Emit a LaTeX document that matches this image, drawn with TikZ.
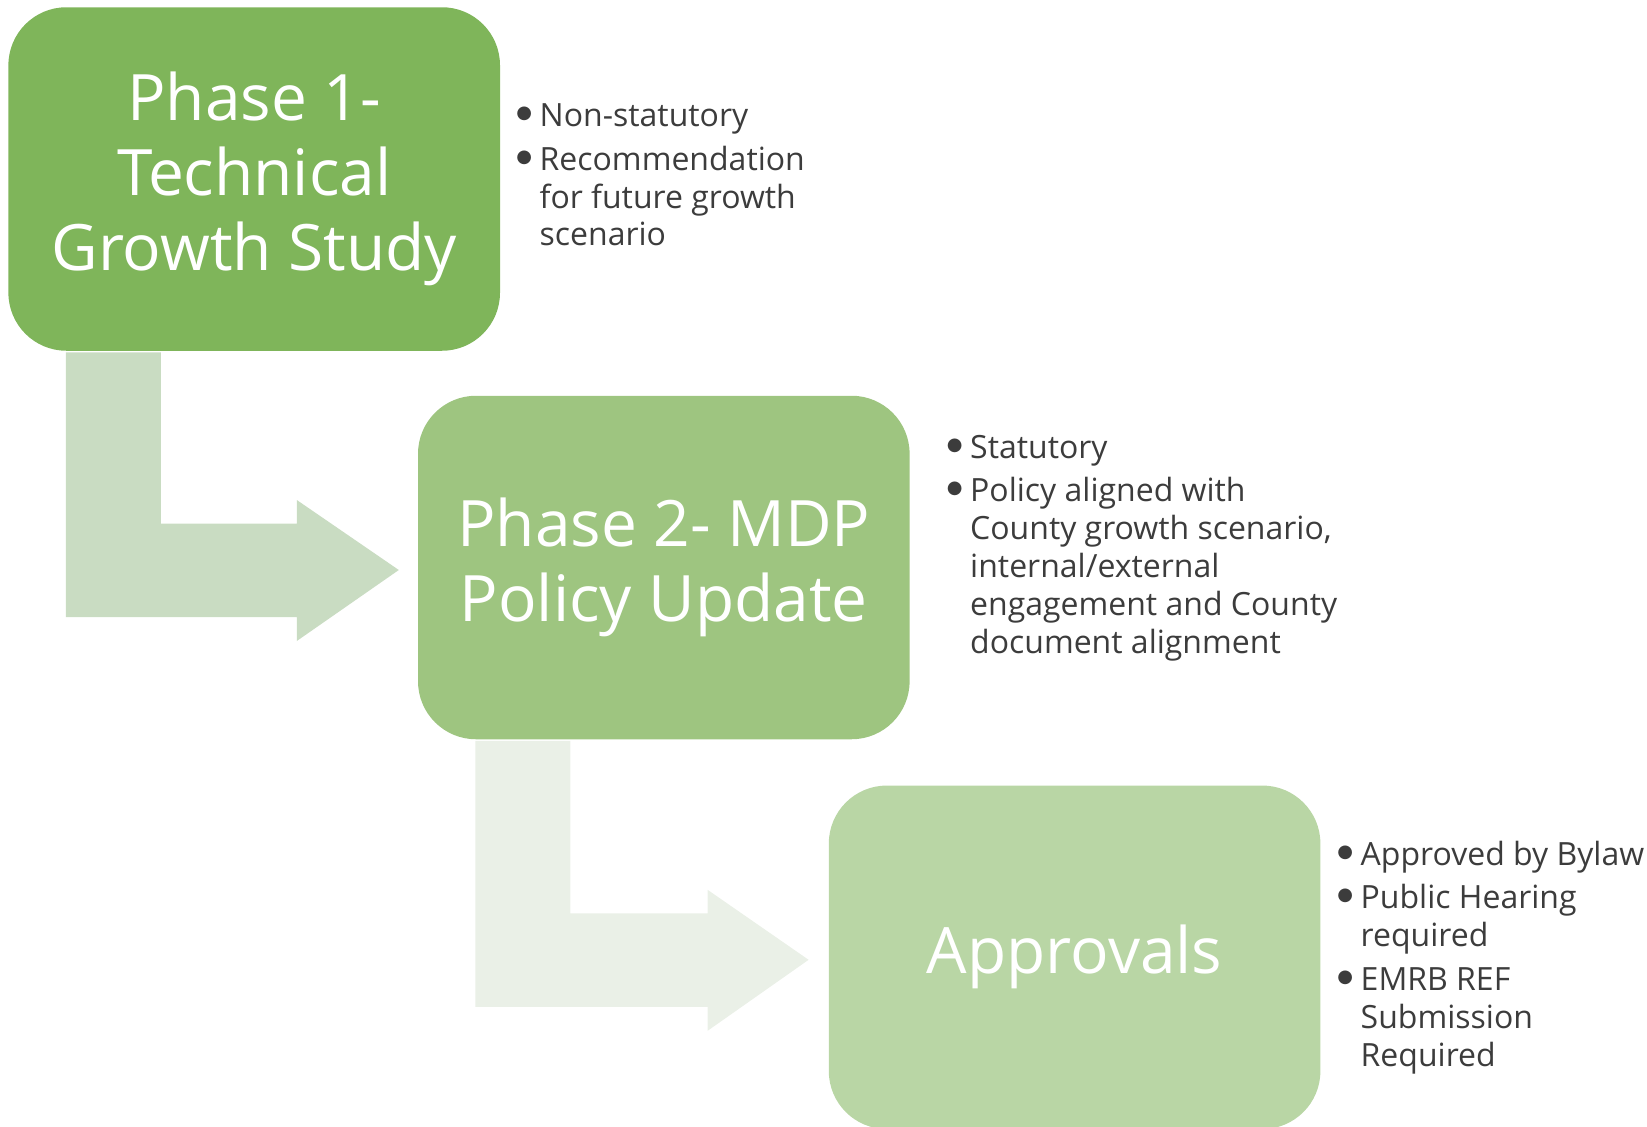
\documentclass[tikz,border=0pt]{standalone}
\usepackage{fontspec}
\setmainfont{Open Sans}
\newfontfamily\dotfont{DejaVu Sans}
\usetikzlibrary{positioning,calc}
\definecolor{phaseA}{HTML}{7FB55A}
\definecolor{phaseB}{HTML}{9EC580}
\definecolor{phaseC}{HTML}{B9D6A5}
\definecolor{bendA}{HTML}{C9DCC2}
\definecolor{bendB}{HTML}{EAF0E7}
\definecolor{notegray}{HTML}{3C3C3C}
\newcommand{\itm}{\makebox[15.5pt][l]{\makebox[0pt][c]{\raisebox{8pt}{\dotfont\fontsize{18}{18}\selectfont ●}}}}

\begin{document}
\begin{tikzpicture}[
    x=1pt, y=-1pt,
    phase/.style={rectangle, rounded corners=58pt, inner sep=0pt, align=center, minimum width=491.6pt, minimum height=343.5pt, text=white, font=\fontsize{64}{75}\selectfont},
    note/.style={anchor=base west, inner sep=0pt, text=notegray, font=\fontsize{32}{37.8}\selectfont}
]
\useasboundingbox (0,0) rectangle (1647,1127);
\node[phase, fill=phaseA] (p1) at (254.2,179) {Phase 1-\\Technical\\Growth Study};
\node[phase, fill=phaseB] (p2) at (663.8,567.5) {Phase 2- MDP\\Policy Update};
\node[phase, fill=phaseC] (p3) at (1074.6,957.3) {Approvals};
% bent arrows between the phases
\fill[bendA] ($(p1.south west)+(57.6,1.3)$) coordinate (a1) -- ++(95,0) |- ($(p2.west)+(-121,-44)$) -- ++(0,-23.5) -- ($(p2.west)+(-19,2.5)$) -- ($(p2.west)+(-121,73.5)$) -- ++(0,-24) -| (a1) -- cycle;
\fill[bendB] ($(p2.south west)+(57.6,1.3)$) coordinate (a2) -- ++(95,0) |- ($(p3.west)+(-121,-44)$) -- ++(0,-23.5) -- ($(p3.west)+(-20,2.5)$) -- ($(p3.west)+(-121,73.5)$) -- ++(0,-24) -| (a2) -- cycle;
% notes
\node[note] (n1) at (524,126.5) {\begin{tabular}[t]{@{}l@{}l@{}}
\itm & Non-statutory\\[6pt]
\itm & Recommendation\\
 & for future growth\\
 & scenario
\end{tabular}};
\node[note] (n2) at (954.5,458) {\begin{tabular}[t]{@{}l@{}l@{}}
\itm & Statutory\\[6pt]
\itm & Policy aligned with\\
 & County growth scenario,\\
 & internal/external\\
 & engagement and County\\
 & document alignment
\end{tabular}};
\node[note] (n3) at (1345,865) {\begin{tabular}[t]{@{}l@{}l@{}}
\itm & Approved by Bylaw\\[6pt]
\itm & Public Hearing\\
 & required\\[6pt]
\itm & EMRB REF\\
 & Submission\\
 & Required
\end{tabular}};
\end{tikzpicture}
\end{document}
